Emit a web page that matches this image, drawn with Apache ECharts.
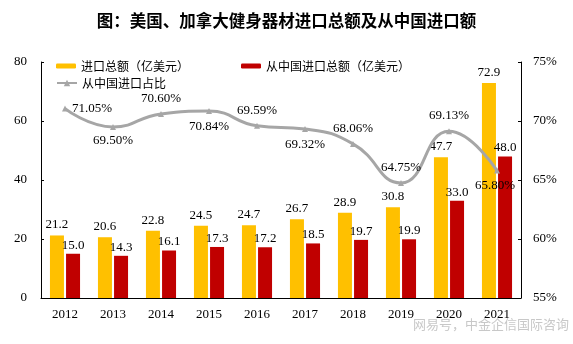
<!DOCTYPE html>
<html><head><meta charset="utf-8">
<script src="https://cdn.jsdelivr.net/npm/echarts@6/dist/echarts.min.js"></script>
<style>html,body{margin:0;padding:0;background:#fff}#c{width:573px;height:344px}</style>
</head><body><div id="c"></div>
<script>
const years = ['2012','2013','2014','2015','2016','2017','2018','2019','2020','2021'];
const totalImport = [21.2,20.6,22.8,24.5,24.7,26.7,28.9,30.8,47.7,72.9];
const chinaImport = [15.0,14.3,16.1,17.3,17.2,18.5,19.7,19.9,33.0,48.0];
const chinaShare = [71.05,69.50,70.60,70.84,69.59,69.32,68.06,64.75,69.13,65.80];
const leftTicks = [0,20,40,60,80];
const rightTicks = [55,60,65,70,75];

const serif = '"Liberation Serif","Times New Roman",serif';
const cjk = '"Noto Sans CJK SC","Noto Sans",sans-serif';
const shareLabelPos = ['right','bottom','top','bottom','top','bottom','top','top','top','bottom'];
const shareLabelOffset = [[-2,0],[0,-2],[0,0],[0,0],[0,0],[0,0],[0,0],[0,0],[0,0],[-2,0]];

const chart = echarts.init(document.getElementById('c'), null, {renderer:'canvas'});
chart.setOption({
  animation:false,
  title:{text:'图：美国、加拿大健身器材进口总额及从中国进口额',left:'center',top:7,
    textStyle:{fontFamily:cjk,fontSize:16.5,fontWeight:'bold',color:'#000'}},
  legend:[{
    data:['进口总额（亿美元）','从中国进口总额（亿美元）'],left:56,top:60,padding:0,itemWidth:20,itemHeight:5,itemGap:52,
    textStyle:{fontFamily:cjk,fontSize:12,color:'#000'}
  },{
    data:['从中国进口占比'],left:56,top:77,padding:0,itemWidth:20,itemHeight:8,
    textStyle:{fontFamily:cjk,fontSize:12,color:'#000'}
  }],
  grid:{left:41,right:52,top:62,bottom:46},
  xAxis:{type:'category',data:years,
    axisLine:{lineStyle:{color:'#000',width:1}},
    axisTick:{inside:true,length:3,lineStyle:{color:'#000'}},
    axisLabel:{fontFamily:serif,fontSize:13,color:'#000',margin:10}},
  yAxis:[{type:'value',min:leftTicks[0],max:leftTicks[leftTicks.length-1],interval:20,
    splitLine:{show:false},
    axisLine:{show:true,lineStyle:{color:'#000'}},
    axisTick:{show:true,inside:true,length:3,lineStyle:{color:'#000'}},
    axisLabel:{fontFamily:serif,fontSize:13,color:'#000',margin:14}},
   {type:'value',min:rightTicks[0],max:rightTicks[rightTicks.length-1],interval:5,
    splitLine:{show:false},
    axisLine:{show:true,lineStyle:{color:'#000'}},
    axisTick:{show:true,inside:true,length:3,lineStyle:{color:'#000'}},
    axisLabel:{fontFamily:serif,fontSize:13,color:'#000',margin:12,formatter:'{value}%'}}],
  series:[
    {name:'进口总额（亿美元）',type:'bar',data:totalImport,barWidth:14,barGap:'15%',
      itemStyle:{color:'#FFC000'},
      label:{show:true,position:'top',distance:4,fontFamily:serif,fontSize:13,color:'#000',formatter:p=>p.value.toFixed(1)}},
    {name:'从中国进口总额（亿美元）',type:'bar',data:chinaImport,barWidth:14,
      itemStyle:{color:'#C00000'},
      label:{show:true,position:'top',distance:2,fontFamily:serif,fontSize:13,color:'#000',formatter:p=>p.value.toFixed(1)}},
    {name:'从中国进口占比',type:'line',yAxisIndex:1,smooth:true,data:chinaShare.map((v,i)=>({value:v,
        label:{position:shareLabelPos[i],offset:shareLabelOffset[i]}})),
      lineStyle:{color:'#A6A6A6',width:3},itemStyle:{color:'#A6A6A6'},
      symbol:'triangle',symbolSize:6,
      label:{show:true,fontFamily:serif,fontSize:13,color:'#000',distance:6,formatter:p=>p.value.toFixed(2)+'%'}}
  ],
  graphic:[{type:'text',left:413,top:318,style:{text:'网易号，中金企信国际咨询',fill:'#c8c8c8',font:'13px "Noto Sans CJK SC"'}}]
});
</script></body></html>
